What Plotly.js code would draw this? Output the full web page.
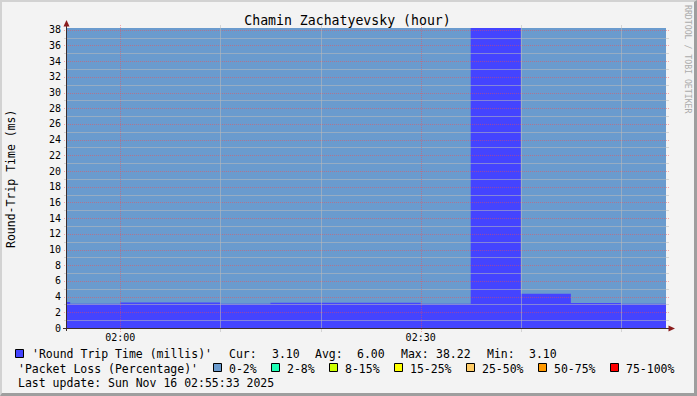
<!DOCTYPE html>
<html><head><meta charset="utf-8">
<script src="https://cdn.plot.ly/plotly-3.0.1.min.js"></script>
<style>
html,body{margin:0;padding:0;background:#F3F3F3;}
#wrap{position:relative;width:697px;height:396px;}
#frame{position:absolute;left:0;top:0;width:697px;height:396px;box-sizing:border-box;border-top:2px solid #D2D2D2;border-left:2px solid #D2D2D2;border-right:3px solid #9E9E9E;border-bottom:3px solid #9E9E9E;pointer-events:none;}
</style>
</head><body>
<div id="wrap"><div id="chart" style="width:697px;height:396px"></div><div id="frame"></div></div>
<script>
// ---- data ----
const chartTitle = 'Chamin Zachatyevsky (hour)';
const yTitle = 'Round-Trip Time (ms)';
const stepTimes = ['2025-11-16 01:50:00','2025-11-16 01:55:00','2025-11-16 02:00:00','2025-11-16 02:05:00',
  '2025-11-16 02:10:00','2025-11-16 02:15:00','2025-11-16 02:20:00','2025-11-16 02:25:00',
  '2025-11-16 02:30:00','2025-11-16 02:35:00','2025-11-16 02:40:00','2025-11-16 02:45:00','2025-11-16 02:50:00'];
const stepEnd = '2025-11-16 02:55:00';
const rttValues = [3.30, 3.10, 3.24, 3.24, 3.10, 3.22, 3.22, 3.22, 3.10, 38.22, 4.36, 3.20, 3.10];
const lossValues = [0, 0, 0, 0, 0, 0, 0, 0, 0, 0, 0, 0, 0];
const lossBandLabels = ['0-2%','2-8%','8-15%','15-25%','25-50%','50-75%','75-100%'];
const lossBandUpper = [2, 8, 15, 25, 50, 75, 100];
const lossBandColors = ['#6A9BCE','#1EFFB4','#CCFF00','#FFFF00','#FFCC66','#FF9900','#FF0000'];
const xRange = ['2025-11-16 01:54:41','2025-11-16 02:54:30'];
const xTickVals = ['2025-11-16 02:00:00','2025-11-16 02:30:00'];
const xTickText = ['02:00','02:30'];
const xMinorGrid = ['2025-11-16 02:10:00','2025-11-16 02:20:00','2025-11-16 02:40:00','2025-11-16 02:50:00'];
const yTickVals = [0,2,4,6,8,10,12,14,16,18,20,22,24,26,28,30,32,34,36,38];
const rttLegend = "'Round Trip Time (millis)'";
const lossLegend = "'Packet Loss (Percentage)'";
const statLabels = ['Cur:','Avg:','Max:','Min:'];
const statValues = ['3.10','6.00','38.22','3.10'];
const lastUpdate = 'Last update: Sun Nov 16 02:55:33 2025';
const watermark = 'RRDTOOL / TOBI OETIKER';

// ---- helpers ----
const PL=67, PT=28, PW=599, PH=300;
const px = x => (x-PL)/PW;
const py = y => (PT+PH-y)/PH;
const MONO = 'DejaVu Sans Mono, monospace';
const yTop = Math.max(...rttValues);
const ms = t => new Date(t.replace(' ','T')+'Z').getTime();
const x0ms = ms(xRange[0]), x1ms = ms(xRange[1]);
const crispY = v => py(Math.round(PT+PH - v*PH/yTop) + 0.5);
const crispX = t => px(Math.round(PL + (ms(t)-x0ms)/(x1ms-x0ms)*PW) + 0.5);
function bandColor(v){ for(let i=0;i<lossBandUpper.length;i++){ if(v<=lossBandUpper[i]) return lossBandColors[i]; } return lossBandColors[lossBandColors.length-1]; }

const lossTrace = {
  type:'bar', x: stepTimes, y: stepTimes.map(()=>yTop), width: 300000, offset: 0,
  marker:{color: lossValues.map(bandColor), line:{width:0}}, hoverinfo:'skip', showlegend:false
};
const rttTrace = {
  type:'scatter', mode:'lines', x: stepTimes.concat([stepEnd]), y: rttValues.concat([rttValues[rttValues.length-1]]),
  line:{shape:'hv', width:0, color:'#4444FF'}, fill:'tozeroy', fillcolor:'#4444FF', showlegend:false, hoverinfo:'skip'
};

const shapes = [];
const MAJ = 'rgba(255,70,70,0.45)', MIN = 'rgba(185,185,185,0.55)';
for(let v=1; v<=Math.floor(yTop); v++){
  const major = v%2===0;
  const yy = crispY(v);
  shapes.push({type:'line', xref:'paper', yref:'paper', x0:px(64), x1:px(669), y0:yy, y1:yy, layer:'above',
    line:{color: major?MAJ:MIN, width:1, dash: major?'1px,1px':'solid'}});
}
xMinorGrid.forEach(t=>{ const xx=crispX(t); shapes.push({type:'line', xref:'paper', yref:'paper', x0:xx, x1:xx, y0:py(332), y1:py(25), layer:'above',
  line:{color:MIN, width:1}}); });
xTickVals.forEach(t=>{ const xx=crispX(t); shapes.push({type:'line', xref:'paper', yref:'paper', x0:xx, x1:xx, y0:py(332), y1:py(25), layer:'above',
  line:{color:MAJ, width:1, dash:'1px,1px'}}); });
// axes
const AX = '#3C2C2C', ARR = '#8A1C1C';
shapes.push({type:'line', xref:'paper', yref:'paper', x0:px(66.5), x1:px(66.5), y0:py(331), y1:py(24), line:{color:AX, width:1}, layer:'above'});
shapes.push({type:'line', xref:'paper', yref:'paper', x0:px(63), x1:px(670), y0:py(328.5), y1:py(328.5), line:{color:AX, width:1}, layer:'above'});
shapes.push({type:'path', xref:'paper', yref:'paper', path:`M ${px(66.5)} ${py(20)} L ${px(69.5)} ${py(26.5)} L ${px(63.5)} ${py(26.5)} Z`, fillcolor:ARR, line:{width:0}, layer:'above'});
shapes.push({type:'path', xref:'paper', yref:'paper', path:`M ${px(675)} ${py(328.5)} L ${px(668.5)} ${py(325.5)} L ${px(668.5)} ${py(331.5)} Z`, fillcolor:ARR, line:{width:0}, layer:'above'});

// legend squares
function sq(x, y, color){ shapes.push({type:'rect', xref:'paper', yref:'paper', x0:px(x), x1:px(x+8), y0:py(y+8), y1:py(y), fillcolor:color, line:{color:'#000', width:1}, layer:'above'}); }
sq(15.5, 349.5, '#4444FF');
const lossSqX = [213.5, 271.5, 329.5, 394.5, 466.5, 538.5, 610.5];
const lossTxtX = [228.3, 286, 344, 409.3, 481, 553, 625];
lossBandColors.forEach((c,i)=>sq(lossSqX[i], 363.5, c));

const annotations = [];
function txt(x, y, t, opts){ annotations.push(Object.assign({xref:'paper', yref:'paper', x:px(x), y:py(y), xanchor:'left', yanchor:'middle', text:t, showarrow:false, borderpad:0, font:{family:MONO, size:11.5, color:'#000'}}, opts||{})); }
txt(30.7, 354, rttLegend);
const statLX = [228.3, 314.3, 400, 486], statVX = [270.7, 356, 435, 528.3];
statLabels.forEach((s,i)=>{ txt(statLX[i], 354, s); txt(statVX[i], 354, statValues[i]); });
txt(16.7, 368.5, lossLegend);
lossBandLabels.forEach((s,i)=>txt(lossTxtX[i], 368.5, s));
txt(16.7, 382.5, lastUpdate);
txt(10.5, 179.5, yTitle, {xanchor:'center', textangle:-90});
txt(688, 59, watermark, {xanchor:'center', textangle:90, font:{family:MONO, size:8.2, color:'#ABABAB'}});

const layout = {
  width:697, height:396, margin:{l:PL, r:697-PL-PW, t:PT, b:396-PT-PH},
  paper_bgcolor:'rgba(0,0,0,0)', plot_bgcolor:'#FFFFFF', barmode:'overlay', bargap:0,
  title:{text:chartTitle, font:{family:MONO, size:13.2, color:'#000'}, xref:'container', x:347.5/697, xanchor:'center', yref:'container', y:1-20/396, yanchor:'middle'},
  xaxis:{type:'date', range:xRange, tickvals:xTickVals, ticktext:xTickText, showgrid:false, zeroline:false, showline:false, ticks:'',
    tickfont:{family:MONO, size:10, color:'#000'}, ticklabelstandoff:2, fixedrange:true},
  yaxis:{range:[0,yTop], tickvals:yTickVals, ticktext:yTickVals.map(String), showgrid:false, zeroline:false, showline:false, ticks:'',
    tickfont:{family:MONO, size:10, color:'#000'}, ticklabelstandoff:5, fixedrange:true},
  shapes, annotations, showlegend:false
};
Plotly.newPlot('chart', [lossTrace, rttTrace], layout, {displayModeBar:false, staticPlot:true});
</script>
</body></html>
